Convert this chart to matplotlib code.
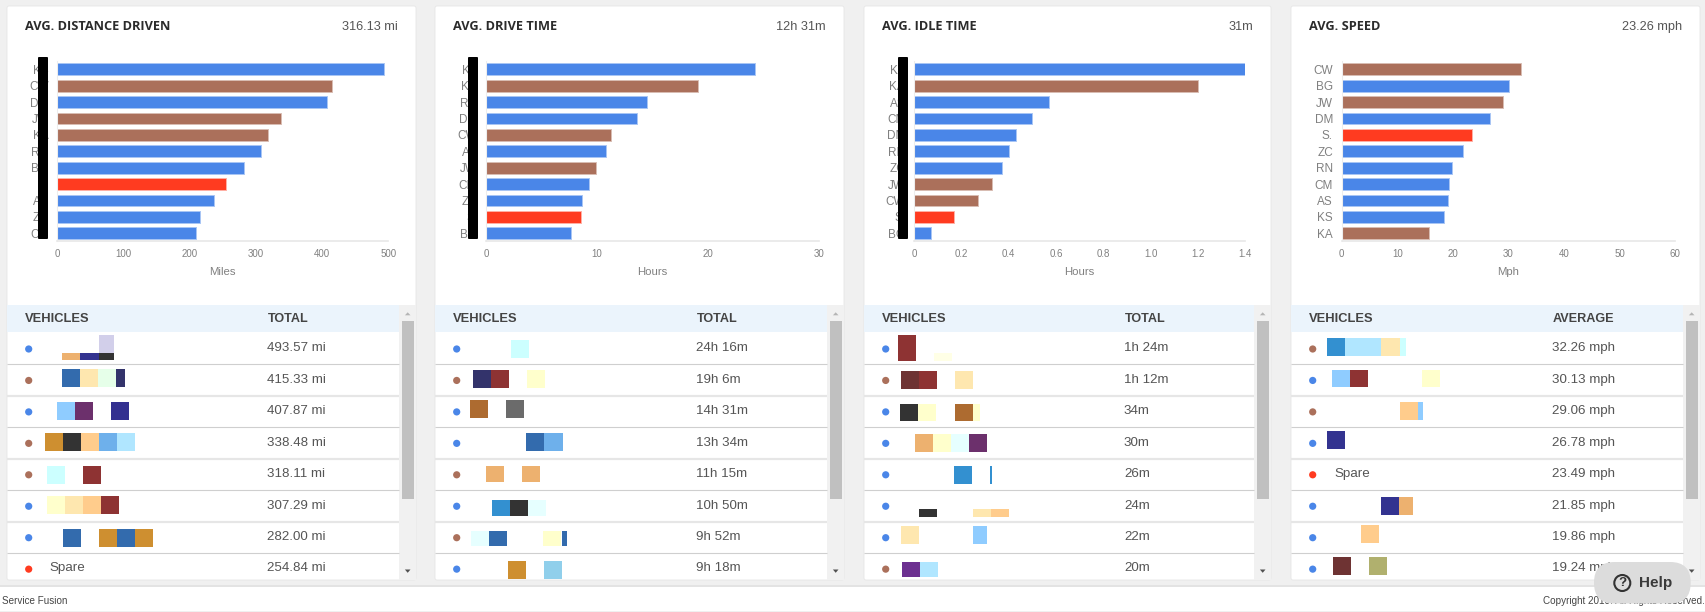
import matplotlib
matplotlib.use("Agg")
import matplotlib.pyplot as plt
from matplotlib.patches import Rectangle, FancyBboxPatch, Circle

W, H = 1706, 612

# bar charts
dist_labels = ["KS", "CW", "DM", "JW", "KA", "RN", "BG", "S.", "AS", "ZC", "CM"]
dist_values = [493.57, 415.33, 407.87, 338.48, 318.11, 307.29, 282.00, 254.84, 236, 215, 209]
drive_labels = ["KS", "KA", "RN", "DM", "CW", "AS", "JW", "CM", "ZC", "S.", "BG"]
drive_values = [24.27, 19.1, 14.52, 13.57, 11.25, 10.83, 9.87, 9.3, 8.65, 8.55, 7.68]
idle_labels = ["KS", "KA", "AS", "CM", "DM", "RN", "ZC", "JW", "CW", "S.", "BG"]
idle_values = [1.4, 1.2, 0.57, 0.5, 0.43, 0.4, 0.37, 0.33, 0.27, 0.17, 0.07]
speed_labels = ["CW", "BG", "JW", "DM", "S.", "ZC", "RN", "CM", "AS", "KS", "KA"]
speed_values = [32.26, 30.13, 29.06, 26.78, 23.49, 21.85, 19.86, 19.24, 19.1, 18.4, 15.7]

dist_ticks = [0, 100, 200, 300, 400, 500]
drive_ticks = [0, 10, 20, 30]
idle_ticks = [0, 0.2, 0.4, 0.6, 0.8, 1.0, 1.2, 1.4]
idle_ticklabels = ["0", "0.2", "0.4", "0.6", "0.8", "1.0", "1.2", "1.4"]
speed_ticks = [0, 10, 20, 30, 40, 50, 60]

# table rows
dist_rows = ["493.57 mi", "415.33 mi", "407.87 mi", "338.48 mi", "318.11 mi", "307.29 mi", "282.00 mi", "254.84 mi"]
drive_rows = ["24h 16m", "19h 6m", "14h 31m", "13h 34m", "11h 15m", "10h 50m", "9h 52m", "9h 18m"]
idle_rows = ["1h 24m", "1h 12m", "34m", "30m", "26m", "24m", "22m", "20m"]
speed_rows = ["32.26 mph", "30.13 mph", "29.06 mph", "26.78 mph", "23.49 mph", "21.85 mph", "19.86 mph", "19.24 mph"]

BLUE = "#4A86E8"
BROWN = "#AB705B"
RED = "#FF3B20"
BROWN_NAMES = ["CW", "JW", "KA"]
EDGES = {BLUE: "#A9C6F5", BROWN: "#D9BDB3", RED: "#FFB0A5"}

dist_dots = [BLUE, BROWN, BLUE, BROWN, BROWN, BLUE, BLUE, RED]
drive_dots = [BLUE, BROWN, BLUE, BLUE, BROWN, BLUE, BROWN, BLUE]
idle_dots = [BLUE, BROWN, BLUE, BLUE, BLUE, BLUE, BLUE, BROWN]
speed_dots = [BROWN, BLUE, BROWN, BLUE, RED, BLUE, BLUE, BLUE]

# colour patches over the vehicle names, (left, top, right, bottom, colour) in 3x pixels of each panel
dist_patches = [
    (186, 160, 241, 180, "#EDB16F"), (241, 160, 296, 180, "#333390"), (296, 160, 342, 180, "#333333"),
    (296, 105, 342, 160, "#D2CFEA"),
    (186, 207, 240, 261, "#336BAD"), (240, 207, 294, 261, "#FEE7AF"), (294, 207, 348, 261, "#E6FFE9"),
    (348, 207, 375, 261, "#33336B"),
    (171, 306, 225, 360, "#8FCCFF"), (225, 306, 279, 360, "#6C306C"), (333, 306, 387, 360, "#333090"),
    (135, 399, 189, 453, "#CE8F30"), (189, 399, 243, 453, "#333333"), (243, 399, 297, 453, "#FFCC8C"),
    (297, 399, 351, 453, "#6EB0EB"), (351, 399, 405, 453, "#B0E6FF"),
    (141, 498, 195, 552, "#CCFFFF"), (250, 498, 304, 552, "#8E3333"),
    (141, 588, 195, 642, "#FFFFCC"), (195, 588, 249, 642, "#FEE7AF"), (249, 588, 303, 642, "#FFCC8C"),
    (303, 588, 357, 642, "#8E3333"),
    (189, 687, 243, 741, "#336BAD"), (298, 687, 352, 741, "#CE8F30"), (352, 687, 406, 741, "#336BAD"),
    (406, 687, 460, 741, "#CE8F30"),
]
drive_patches = [
    (243, 120, 298, 174, "#CCFFFF"),
    (129, 210, 183, 264, "#33336B"), (183, 210, 237, 264, "#8E3333"), (292, 210, 346, 264, "#FFFFCC"),
    (120, 300, 174, 354, "#AD6B30"), (228, 300, 282, 354, "#6B6B6B"),
    (289, 399, 343, 453, "#336BAD"), (343, 399, 398, 453, "#6EB0EB"),
    (168, 498, 222, 546, "#EDB16F"), (276, 498, 330, 546, "#EDB16F"),
    (186, 600, 240, 648, "#3390D0"), (240, 600, 294, 648, "#333333"), (294, 600, 348, 648, "#E6FFFF"),
    (123, 693, 177, 738, "#E6FFFF"), (177, 693, 231, 738, "#336BAD"), (340, 693, 394, 738, "#FFFFCC"),
    (395, 693, 411, 738, "#336BAD"),
    (234, 783, 288, 837, "#CE8F30"), (343, 783, 397, 837, "#90CFEB"),
]
idle_patches = [
    (114, 105, 168, 183, "#8E3333"), (222, 160, 276, 183, "#FFFFE6"),
    (123, 213, 177, 267, "#6E3333"), (177, 213, 231, 267, "#8E3333"), (285, 213, 339, 267, "#FEE7AF"),
    (120, 312, 174, 363, "#333333"), (175, 312, 229, 363, "#FFFFCC"), (284, 312, 338, 363, "#AD6B30"),
    (339, 312, 360, 363, "#FFFFCC"),
    (165, 402, 219, 456, "#EDB16F"), (219, 402, 273, 456, "#FFFFCC"), (273, 402, 327, 456, "#E6FFFF"),
    (327, 402, 381, 456, "#6C306C"),
    (282, 498, 336, 552, "#3390D0"), (391, 498, 396, 552, "#3390D0"),
    (177, 628, 231, 651, "#333333"), (339, 628, 393, 651, "#FEE7AF"), (393, 628, 447, 651, "#FFCC8C"),
    (123, 678, 177, 732, "#FEE7AF"), (340, 678, 381, 732, "#8FCCFF"),
    (126, 786, 180, 831, "#6C3090"), (180, 786, 234, 831, "#B0E6FF"),
]
speed_patches = [
    (141, 114, 195, 168, "#3390D0"), (195, 114, 304, 168, "#B0E6FF"), (304, 114, 359, 168, "#FEE7AF"),
    (359, 114, 378, 168, "#CCFFFF"),
    (156, 210, 210, 261, "#8FCCFF"), (210, 210, 264, 261, "#8E3333"), (427, 210, 481, 261, "#FFFFCC"),
    (361, 306, 415, 360, "#FFCC8C"), (415, 306, 429, 360, "#8FCCFF"),
    (141, 393, 195, 447, "#333390"),
    (304, 591, 358, 645, "#333390"), (358, 591, 399, 645, "#EDB16F"),
    (243, 675, 297, 729, "#FFCC8C"),
    (159, 771, 213, 825, "#6E3333"), (267, 771, 321, 825, "#B0B06E"),
]

panels = [
    dict(title="AVG. DISTANCE DRIVEN", avg="316.13 mi", labels=dist_labels, values=dist_values, ticks=dist_ticks,
         ticklabels=None, xlabel="Miles", rows=dist_rows, dots=dist_dots, patches=dist_patches, head="TOTAL",
         crop=0, left=7, right=416, x0=57.3, x1=388.3, black=38, avg_r=397.7, val_x=267.3, spare=49.7),
    dict(title="AVG. DRIVE TIME", avg="12h 31m", labels=drive_labels, values=drive_values, ticks=drive_ticks,
         ticklabels=None, xlabel="Hours", rows=drive_rows, dots=drive_dots, patches=drive_patches, head="TOTAL",
         crop=430, left=435, right=844, x0=486, x1=819, black=468, avg_r=825.7, val_x=696, spare=None),
    dict(title="AVG. IDLE TIME", avg="31m", labels=idle_labels, values=idle_values, ticks=idle_ticks,
         ticklabels=idle_ticklabels, xlabel="Hours", rows=idle_rows, dots=idle_dots, patches=idle_patches, head="TOTAL",
         crop=860, left=864, right=1271, x0=914, x1=1245.3, black=898, avg_r=1253.7, val_x=1124, spare=None),
    dict(title="AVG. SPEED", avg="23.26 mph", labels=speed_labels, values=speed_values, ticks=speed_ticks,
         ticklabels=None, xlabel="Mph", rows=speed_rows, dots=speed_dots, patches=speed_patches, head="AVERAGE",
         crop=1280, left=1291, right=1700, x0=1341.7, x1=1675, black=None, avg_r=1681.7, val_x=1551.7, spare=1334),
]

SANS = ["Liberation Sans", "DejaVu Sans"]
ROW_TOP = 332
ROW_STEP = 31.45
LINE_Y = [364.3, 395.7, 427.3, 459, 490.3, 521.7, 553.3]

fig = plt.figure(figsize=(W / 100, H / 100), dpi=100, facecolor="#F0F0F0")


def pixel_axes(zorder):
    ax = fig.add_axes([0, 0, 1, 1], zorder=zorder)
    ax.set_xlim(0, W)
    ax.set_ylim(H, 0)
    ax.axis("off")
    ax.patch.set_alpha(0)
    return ax


bg = pixel_axes(0)
top = pixel_axes(5)

# footer
bg.add_patch(Rectangle((0, 586), W, 25, fc="white", ec="none"))
bg.add_patch(Rectangle((0, 585), W, 1.5, fc="#E3E3E3", ec="none"))
bg.text(2, 600.5, "Service Fusion", fontsize=7.1, color="#444444", family=SANS, va="center")
bg.text(1705, 600.5, "Copyright 2019. All Rights Reserved.", fontsize=7.1, color="#444444", family=SANS,
        va="center", ha="right")

for p in panels:
    left, right = p["left"], p["right"]
    table_r = right - 17
    bg.add_patch(FancyBboxPatch((left, 6), right - left, 574, boxstyle="round,pad=0,rounding_size=2",
                                fc="white", ec="#E6E6E6", lw=0.6))
    bg.text(left + 18, 26.7, p["title"], fontsize=9.2, fontweight="bold", color="#2B2B2B",
            family=["Open Sans", "DejaVu Sans"], va="center")
    bg.text(p["avg_r"], 26.7, p["avg"], fontsize=9.2, color="#555555", family=SANS, va="center", ha="right")

    # table header and scrollbar
    bg.add_patch(Rectangle((left, 305), table_r - left, 27, fc="#EBF4FC", ec="none"))
    bg.text(left + 18, 319.5, "VEHICLES", fontsize=9.3, fontweight="bold", color="#444444", family=SANS, va="center")
    bg.text(p["val_x"] + 0.7, 319.5, p["head"], fontsize=9.1, fontweight="bold", color="#444444", family=SANS, va="center")
    bg.add_patch(Rectangle((table_r, 305), 17, 274.5, fc="#F1F1F1", ec="none"))
    bg.add_patch(Rectangle((table_r + 3, 321), 12, 178, fc="#C0C0C0", ec="none"))
    mid = table_r + 8.7
    bg.fill([mid - 2.8, mid + 2.8, mid], [315.3, 315.3, 312.3], color="#B5B5B5", lw=0)
    bg.fill([mid - 2.8, mid + 2.8, mid], [569.5, 569.5, 572.8], color="#505050", lw=0)

    for i, y in enumerate(LINE_Y):
        thick = i % 2 == 1
        bg.plot([left, table_r], [y, y], color="#E6E6E6" if thick else "#CFCFCF",
                lw=1.6 if thick else 0.8, solid_capstyle="butt")

    # colour patches
    for x_a, y_a, x_b, y_b, c in p["patches"]:
        x = p["crop"] + x_a / 3
        bg.add_patch(Rectangle((x, 300 + y_a / 3), (x_b - x_a) / 3, (y_b - y_a) / 3, fc=c, ec="none"))

    # rows
    for i, (txt, c) in enumerate(zip(p["rows"], p["dots"])):
        y = ROW_TOP + 17 + i * ROW_STEP
        bg.add_patch(Circle((left + 21.7, y), 3.6, fc=c, ec="none"))
        bg.text(p["val_x"], y - 0.7, txt, fontsize=9.6, color="#555555", family=SANS, va="center")
        if c == RED:
            bg.text(p["spare"], y - 0.7, "Spare", fontsize=9.6, color="#555555", family=SANS, va="center")

    # bar chart, 61 to 241.5 in pixels
    ax = fig.add_axes([p["x0"] / W, 1 - 241.5 / H, (p["x1"] - p["x0"]) / W, 180.5 / H], zorder=2)
    colors = []
    for name in p["labels"]:
        if name == "S.":
            colors.append(RED)
        elif name in BROWN_NAMES:
            colors.append(BROWN)
        else:
            colors.append(BLUE)
    ax.barh(range(len(p["labels"])), p["values"], height=0.72, color=colors,
            edgecolor=[EDGES[c] for c in colors], linewidth=0.7)
    ax.set_ylim(10.5, -0.5)
    ax.set_xlim(p["ticks"][0], p["ticks"][-1])
    ax.set_yticks(range(len(p["labels"])))
    ax.set_yticklabels(p["labels"], fontsize=8.5, color="#808080", family=SANS)
    ax.set_xticks(p["ticks"])
    if p["ticklabels"]:
        ax.set_xticklabels(p["ticklabels"])
    ax.tick_params(axis="x", length=0, pad=5.5, labelsize=7, labelcolor="#808080")
    ax.tick_params(axis="y", length=0, pad=6.3)
    for t in ax.get_xticklabels():
        t.set_family(SANS)
    ax.set_xlabel(p["xlabel"], fontsize=8.2, color="#808080", family=SANS, labelpad=5.5)
    for s in ["top", "right"]:
        ax.spines[s].set_visible(False)
    ax.spines["left"].set_color("#EDEDED")
    ax.spines["bottom"].set_color("#E8E8E8")
    ax.spines["bottom"].set_linewidth(1.2)

    # names blacked out on the first three charts
    if p["black"] is not None:
        top.add_patch(FancyBboxPatch((p["black"], 57), 10, 182, boxstyle="round,pad=0,rounding_size=1",
                                     fc="black", ec="none"))

# help button
top.add_patch(FancyBboxPatch((1594, 562), 96.7, 41.5, boxstyle="round,pad=0,rounding_size=20.5",
                             fc="#DCDCDC", ec="none"))
top.add_patch(Circle((1622.3, 583), 8, fc="none", ec="#333333", lw=1.5))
top.text(1622.3, 583, "?", fontsize=9.5, fontweight="bold", color="#333333", family=SANS, ha="center", va="center")
top.text(1639, 583.5, "Help", fontsize=11, fontweight="bold", color="#3A3A3A", family=SANS, va="center")

fig.savefig("out.png", dpi=100, facecolor=fig.get_facecolor())
